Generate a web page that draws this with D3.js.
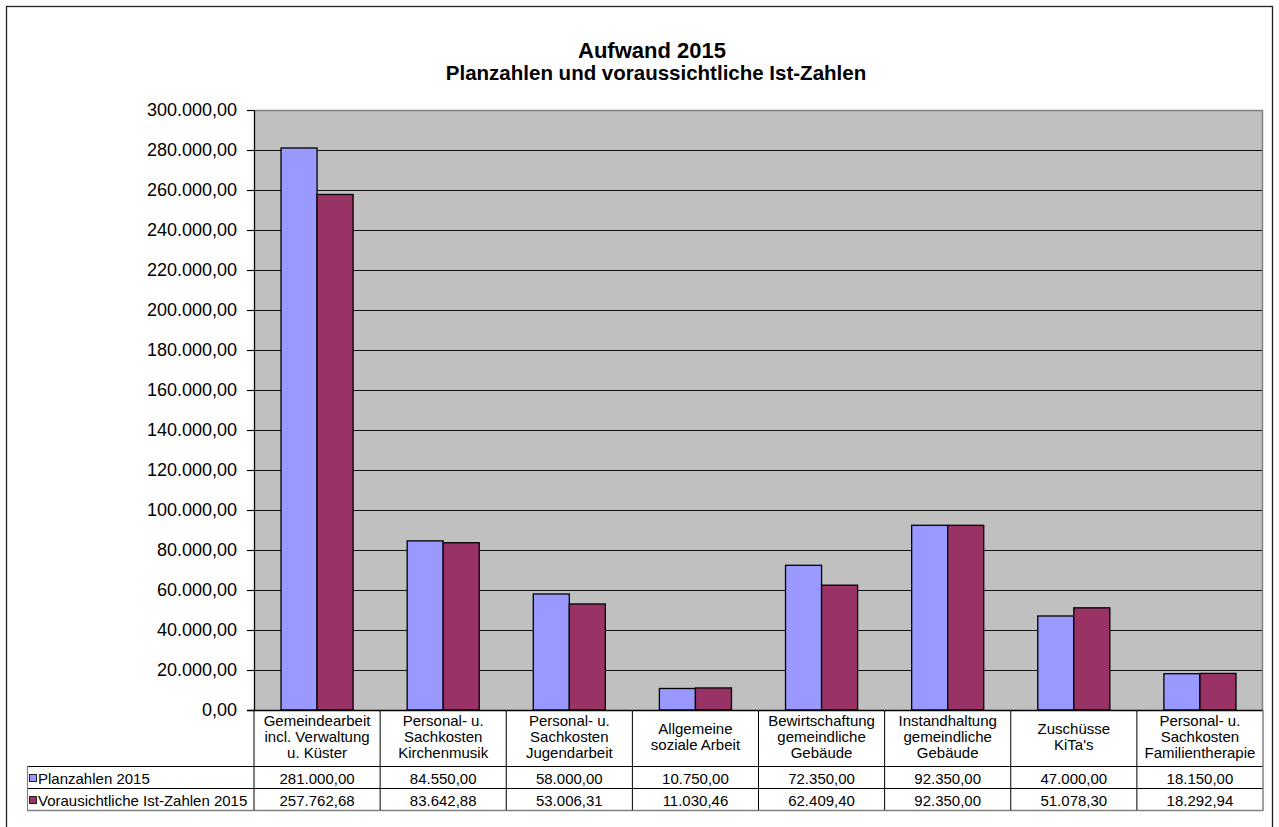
<!DOCTYPE html>
<html>
<head>
<meta charset="utf-8">
<script src="https://cdn.jsdelivr.net/npm/d3@7/dist/d3.min.js"></script>
<style>
  html, body { margin: 0; padding: 0; background: #fff; }
  svg { display: block; font-family: "Liberation Sans", Arial, sans-serif; }
</style>
</head>
<body>
<svg id="chart" width="1279" height="827"></svg>
<script>
// Aufwand 2015: Planzahlen vs. voraussichtliche Ist-Zahlen
const categories = [
  "Gemeindearbeit incl. Verwaltung u. Küster",
  "Personal- u. Sachkosten Kirchenmusik",
  "Personal- u. Sachkosten Jugendarbeit",
  "Allgemeine soziale Arbeit",
  "Bewirtschaftung gemeindliche Gebäude",
  "Instandhaltung gemeindliche Gebäude",
  "Zuschüsse KiTa's",
  "Personal- u. Sachkosten Familientherapie"
];
const categoryLines = [
  ["Gemeindearbeit", "incl. Verwaltung", "u. Küster"],
  ["Personal- u.", "Sachkosten", "Kirchenmusik"],
  ["Personal- u.", "Sachkosten", "Jugendarbeit"],
  ["Allgemeine", "soziale Arbeit"],
  ["Bewirtschaftung", "gemeindliche", "Gebäude"],
  ["Instandhaltung", "gemeindliche", "Gebäude"],
  ["Zuschüsse", "KiTa's"],
  ["Personal- u.", "Sachkosten", "Familientherapie"]
];
const seriesNames = ["Planzahlen 2015", "Vorausichtliche Ist-Zahlen 2015"];
const planValues = [281000.00, 84550.00, 58000.00, 10750.00, 72350.00, 92350.00, 47000.00, 18150.00];
const istValues  = [257762.68, 83642.88, 53006.31, 11030.46, 62409.40, 92350.00, 51078.30, 18292.94];
const seriesColors = ["#9999FF", "#993366"];
const yTickValues = [0, 20000, 40000, 60000, 80000, 100000, 120000, 140000, 160000,
                     180000, 200000, 220000, 240000, 260000, 280000, 300000];
const titleText = "Aufwand 2015";
const subtitleText = "Planzahlen und voraussichtliche Ist-Zahlen";

(function drawChart() {
  const seriesValues = [planValues, istValues];

  const de = d3.formatLocale({ decimal: ",", thousands: ".", grouping: [3], currency: ["", " €"] });
  const fmt = de.format(",.2f");

  const svg = d3.select("#chart");

  // Chart frame
  svg.append("rect")
    .attr("x", 6.5).attr("y", 6.5)
    .attr("width", 1266).attr("height", 830)
    .attr("fill", "#fff").attr("stroke", "#222").attr("stroke-width", 1.3);

  // Titles
  svg.append("text")
    .attr("x", 652).attr("y", 58)
    .attr("text-anchor", "middle")
    .attr("font-size", 22).attr("font-weight", "bold")
    .text(titleText);
  svg.append("text")
    .attr("x", 656).attr("y", 80)
    .attr("text-anchor", "middle")
    .attr("font-size", 20.5).attr("font-weight", "bold")
    .text(subtitleText);

  // Plot geometry
  const pLeft = 254, pRight = 1263, pTop = 110, pBottom = 710;

  const x0 = d3.scaleBand().domain(categories).range([pLeft, pRight]).paddingInner(0).paddingOuter(0);
  const x1 = d3.scaleBand().domain(seriesNames).range([0, x0.bandwidth()]).paddingInner(0).paddingOuter(0.75);
  const y = d3.scaleLinear().domain([0, 300000]).range([pBottom, pTop]);

  // Plot background
  svg.append("rect")
    .attr("x", pLeft).attr("y", pTop)
    .attr("width", pRight - pLeft).attr("height", pBottom - pTop)
    .attr("fill", "#C0C0C0");

  // Gridlines
  svg.append("g").selectAll("line")
    .data(yTickValues.filter(v => v > 0 && v < 300000))
    .join("line")
    .attr("x1", pLeft).attr("x2", pRight)
    .attr("y1", d => y(d) + 0.5).attr("y2", d => y(d) + 0.5)
    .attr("stroke", "#111").attr("stroke-width", 1);

  // Plot border (top & right)
  svg.append("path")
    .attr("d", `M${pLeft},${pTop + 0.5}H${pRight - 0.5}V${pBottom}`)
    .attr("fill", "none").attr("stroke", "#808080").attr("stroke-width", 1.5);

  // Bars
  const groups = svg.append("g").selectAll("g")
    .data(categories)
    .join("g")
    .attr("transform", d => `translate(${x0(d)},0)`);

  groups.selectAll("rect")
    .data((d, i) => seriesNames.map((s, j) => ({ s, v: seriesValues[j][i], c: seriesColors[j] })))
    .join("rect")
    .attr("x", d => x1(d.s))
    .attr("y", d => y(d.v))
    .attr("width", x1.bandwidth())
    .attr("height", d => y(0) - y(d.v))
    .attr("fill", d => d.c)
    .attr("stroke", "#000").attr("stroke-width", 1.3);

  // Y axis
  const yAxis = d3.axisLeft(y)
    .tickValues(yTickValues)
    .tickFormat(fmt)
    .tickSize(7).tickSizeOuter(0).tickPadding(10);

  const yg = svg.append("g")
    .attr("transform", `translate(${pLeft},0)`)
    .call(yAxis);
  yg.select(".domain").attr("stroke", "#000").attr("stroke-width", 1.3);
  yg.selectAll(".tick line").attr("stroke", "#000").attr("stroke-width", 1.2);
  yg.selectAll(".tick text")
    .attr("font-family", "'Liberation Sans', Arial, sans-serif")
    .attr("font-size", 18).attr("fill", "#000");

  // Data table
  const headTop = pBottom, headBottom = 766, row1Bottom = 788, row2Bottom = 810;
  const tableLeft = 27;
  const tbl = svg.append("g");

  // x-axis line / table top
  tbl.append("line")
    .attr("x1", pLeft - 7).attr("x2", pRight)
    .attr("y1", headTop + 0.5).attr("y2", headTop + 0.5)
    .attr("stroke", "#000").attr("stroke-width", 1.3);

  // horizontal row lines
  [headBottom, row1Bottom].forEach(yy => {
    tbl.append("line")
      .attr("x1", tableLeft).attr("x2", pRight)
      .attr("y1", yy + 0.5).attr("y2", yy + 0.5)
      .attr("stroke", "#000").attr("stroke-width", 1);
  });
  tbl.append("line")
    .attr("x1", tableLeft).attr("x2", pRight)
    .attr("y1", row2Bottom + 0.5).attr("y2", row2Bottom + 0.5)
    .attr("stroke", "#808080").attr("stroke-width", 1.5);

  // vertical column lines
  const colEdges = categories.map(c => x0(c));
  tbl.selectAll("line.col")
    .data(colEdges)
    .join("line")
    .attr("class", "col")
    .attr("x1", d => d).attr("x2", d => d)
    .attr("y1", headTop).attr("y2", row2Bottom)
    .attr("stroke", "#000").attr("stroke-width", 1);
  tbl.append("line")
    .attr("x1", pRight).attr("x2", pRight)
    .attr("y1", headTop).attr("y2", row2Bottom + 1)
    .attr("stroke", "#808080").attr("stroke-width", 1.5);
  tbl.append("line")
    .attr("x1", tableLeft + 0.5).attr("x2", tableLeft + 0.5)
    .attr("y1", headBottom).attr("y2", row2Bottom + 1)
    .attr("stroke", "#808080").attr("stroke-width", 1.2);

  // category header text
  const headCenter = (headTop + headBottom) / 2;
  categories.forEach((c, i) => {
    const lines = categoryLines[i];
    const cx = x0(c) + x0.bandwidth() / 2;
    const t = tbl.append("text")
      .attr("text-anchor", "middle")
      .attr("font-size", 15).attr("fill", "#000");
    lines.forEach((ln, k) => {
      t.append("tspan")
        .attr("x", cx)
        .attr("y", headCenter + 3.5 + (k - (lines.length - 1) / 2) * 16)
        .text(ln);
    });
  });

  // series rows
  const rowTops = [headBottom, row1Bottom];
  seriesNames.forEach((s, j) => {
    const rt = rowTops[j];
    tbl.append("rect")
      .attr("x", tableLeft + 2.5).attr("y", rt + 8.5)
      .attr("width", 7).attr("height", 7)
      .attr("fill", seriesColors[j]).attr("stroke", "#222").attr("stroke-width", 1);
    tbl.append("text")
      .attr("x", tableLeft + 11).attr("y", rt + 17.5)
      .attr("font-size", 15).attr("fill", "#000")
      .text(s);
    categories.forEach((c, i) => {
      tbl.append("text")
        .attr("x", x0(c) + x0.bandwidth() / 2).attr("y", rt + 17.5)
        .attr("text-anchor", "middle")
        .attr("font-size", 15).attr("fill", "#000")
        .text(fmt(seriesValues[j][i]));
    });
  });
})();
</script>
</body>
</html>
